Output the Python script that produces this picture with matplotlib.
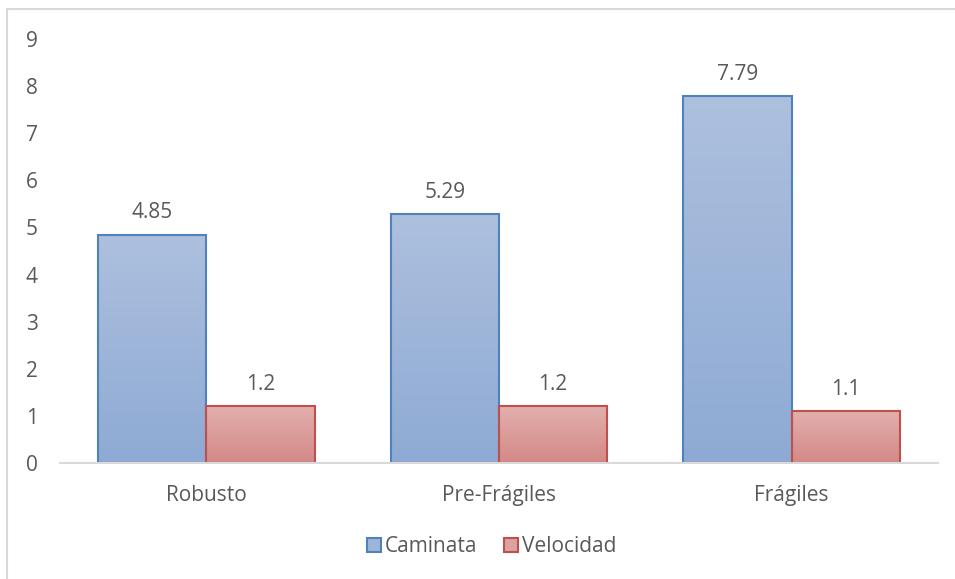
import numpy as np
import matplotlib.pyplot as plt
from matplotlib.patches import Patch, Rectangle
from matplotlib.colors import LinearSegmentedColormap

categories = ['Robusto', 'Pre-Frágiles', 'Frágiles']
caminata = [4.85, 5.29, 7.79]
velocidad = [1.2, 1.2, 1.1]
value_labels_cam = ['4.85', '5.29', '7.79']
value_labels_vel = ['1.2', '1.2', '1.1']
yticks = list(range(0, 10))

plt.rcParams['font.family'] = ['Open Sans', 'DejaVu Sans']
gray = '#595959'
fs = 15

fig = plt.figure(figsize=(9.55, 5.79), dpi=100)
ax = fig.add_axes([0.0628, 0.2003, 0.9192, 0.7323])

# chart area border
fig.patches.append(Rectangle((7 / 955, -0.01), 1.0, (579 - 9) / 579 + 0.01,
                             transform=fig.transFigure, fill=False,
                             edgecolor='#d9d9d9', linewidth=1.5))

x = np.arange(len(categories))
w = 0.37

blue_cmap = LinearSegmentedColormap.from_list('b', ['#8eaad4', '#adc0de'])
red_cmap = LinearSegmentedColormap.from_list('r', ['#d48886', '#e2b0ae'])


def gradient_bars(xs, vals, cmap, edge):
    bars = ax.bar(xs, vals, width=w, color='none', edgecolor=edge, linewidth=1.5, zorder=3)
    grad = np.linspace(0, 1, 256).reshape(-1, 1)
    for b in bars:
        bx, by = b.get_x(), b.get_y()
        bw, bh = b.get_width(), b.get_height()
        im = ax.imshow(grad, cmap=cmap, origin='lower', aspect='auto',
                       extent=(bx, bx + bw, by, by + bh), zorder=2)
        im.set_clip_path(b)
    return bars


gradient_bars(x - w / 2, caminata, blue_cmap, '#4f81bd')
gradient_bars(x + w / 2, velocidad, red_cmap, '#c0504d')

for i in range(len(categories)):
    ax.text(x[i] - w / 2, caminata[i] + 0.24, value_labels_cam[i], ha='center', va='bottom',
            fontsize=fs, color=gray)
    ax.text(x[i] + w / 2, velocidad[i] + 0.24, value_labels_vel[i], ha='center', va='bottom',
            fontsize=fs, color=gray)

ax.set_xlim(-0.5, 2.5)
ax.set_ylim(0, 9)
ax.set_yticks(yticks)
ax.set_yticklabels([str(t) for t in yticks], fontsize=fs, color=gray)
ax.set_xticks(x)
ax.set_xticklabels(categories, fontsize=fs, color=gray)
ax.tick_params(axis='both', length=0)
ax.tick_params(axis='y', pad=16)
ax.tick_params(axis='x', pad=16)
for s in ['top', 'right', 'left']:
    ax.spines[s].set_visible(False)
ax.spines['bottom'].set_color('#d9d9d9')
ax.spines['bottom'].set_linewidth(1.5)
ax.spines['bottom'].set_zorder(4)

handles = [Patch(facecolor='#9fb4d9', edgecolor='#4f81bd', linewidth=1.5),
           Patch(facecolor='#dca2a0', edgecolor='#c0504d', linewidth=1.5)]
leg = fig.legend(handles, ['Caminata', 'Velocidad'], loc='center', ncol=2,
                 bbox_to_anchor=(0.515, 1 - 547 / 579), frameon=False, fontsize=fs,
                 handlelength=0.65, handleheight=0.65, handletextpad=0.2, columnspacing=1.3)
for t in leg.get_texts():
    t.set_color(gray)

fig.savefig('out.png', dpi=100)
